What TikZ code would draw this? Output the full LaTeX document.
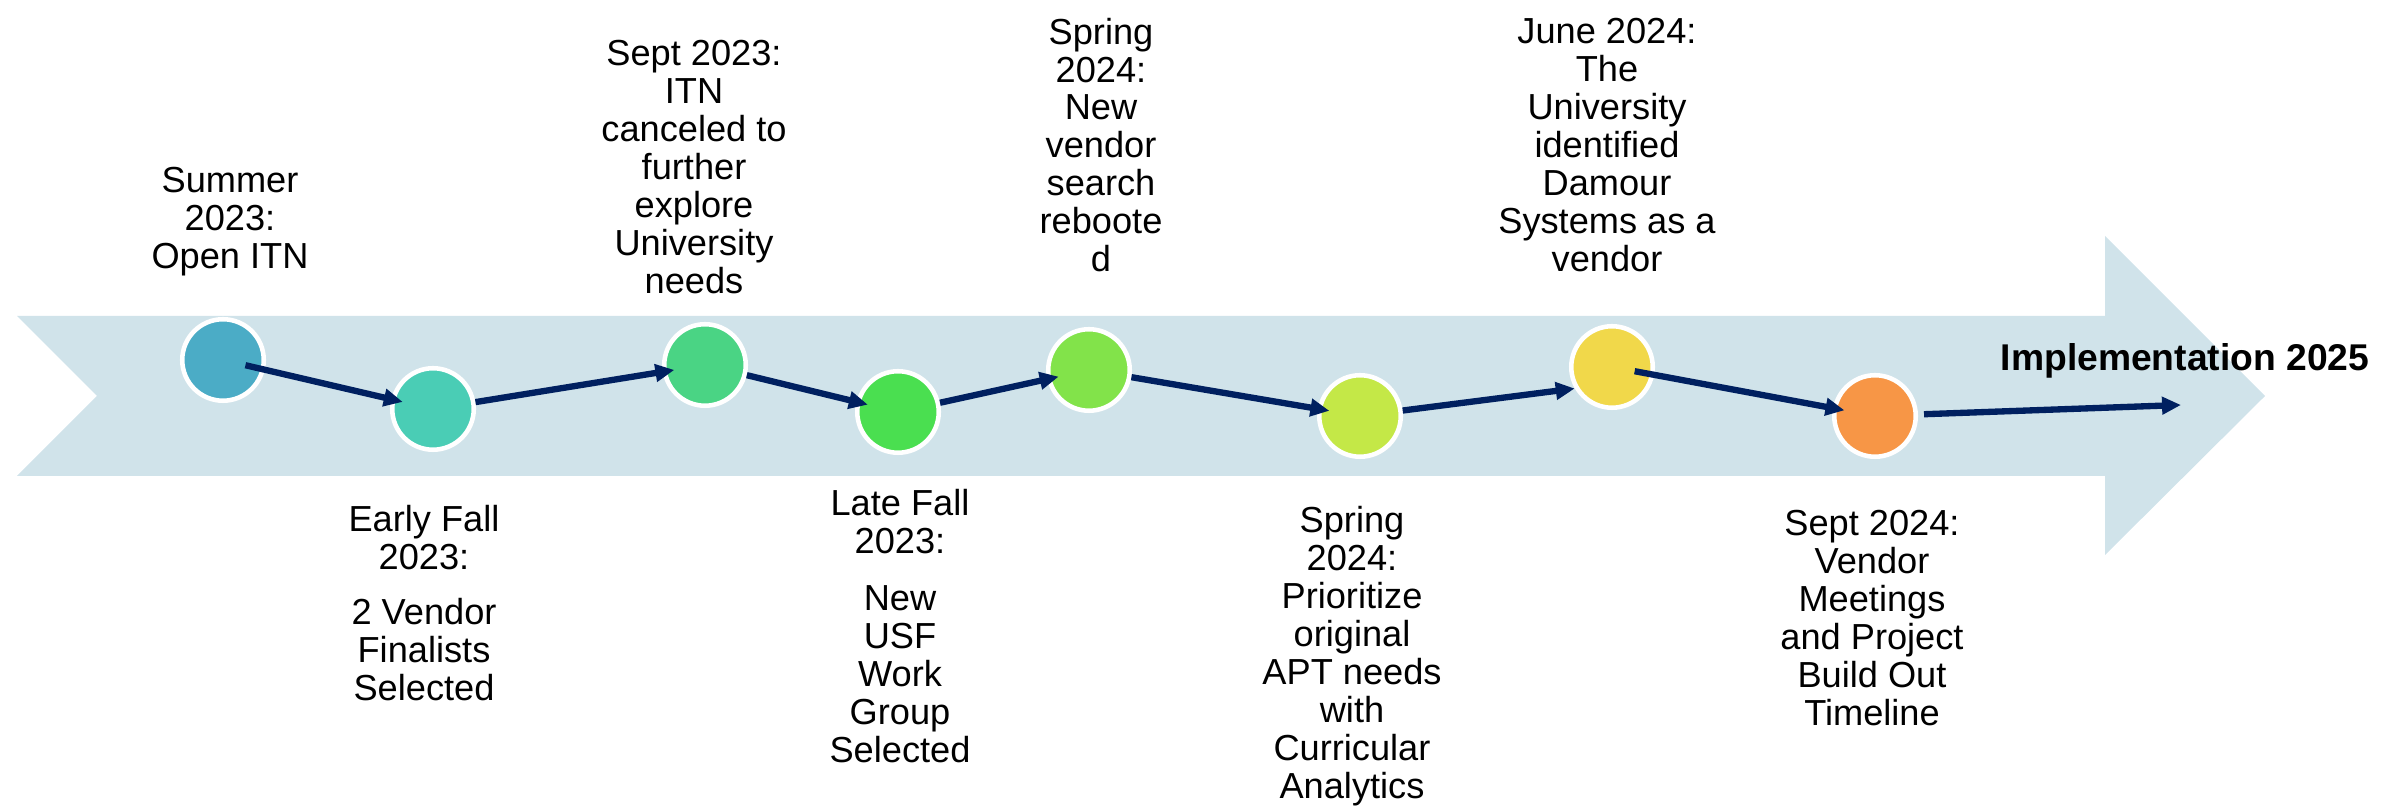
\documentclass[tikz,border=0pt]{standalone}
\usepackage{fontspec}
\setmainfont{Liberation Sans}
\usetikzlibrary{arrows.meta}

\definecolor{bandblue}{RGB}{208,227,234}
\definecolor{navy}{RGB}{0,32,96}
\definecolor{stepA}{RGB}{75,172,198}
\definecolor{stepB}{RGB}{74,205,181}
\definecolor{stepC}{RGB}{74,212,132}
\definecolor{stepD}{RGB}{74,223,80}
\definecolor{stepE}{RGB}{130,227,74}
\definecolor{stepF}{RGB}{196,232,71}
\definecolor{stepG}{RGB}{241,216,74}
\definecolor{stepH}{RGB}{247,150,70}

\begin{document}
\begin{tikzpicture}
                [
                milestone/.style={circle, draw=white, line width=1.3pt, minimum size=0.815cm, inner sep=0pt},
                note/.style={align=center, inner sep=0pt, font=\fontsize{10.3}{10.8}\selectfont},
                link/.style={-{Triangle[length=0.19cm,width=0.17cm]}, draw=navy, line width=1.8pt, shorten >=-0.12cm}
                ]
                \useasboundingbox (0,0) rectangle (23.82,8.12);
                % Background arrow
                \fill[bandblue] (0.17,4.96) -- (21.05,4.96) -- (21.05,5.76) -- (22.65,4.16)
                    -- (21.05,2.57) -- (21.05,3.36) -- (0.17,3.36) -- (0.97,4.16) -- cycle;
                % Milestones
                \node[milestone, fill=stepA] (c1) at (2.23,4.52) {};
                \node[milestone, fill=stepB] (c2) at (4.33,4.03) {};
                \node[milestone, fill=stepC] (c3) at (7.05,4.47) {};
                \node[milestone, fill=stepD] (c4) at (8.98,4.00) {};
                \node[milestone, fill=stepE] (c5) at (10.89,4.42) {};
                \node[milestone, fill=stepF] (c6) at (13.60,3.96) {};
                \node[milestone, fill=stepG] (c7) at (16.12,4.45) {};
                \node[milestone, fill=stepH] (c8) at (18.75,3.96) {};
                \coordinate (goal) at (21.81,4.07);
                % Connectors
                \draw[link, shorten <=-0.2cm] (c1) -- (c2);
                \draw[link] (c2) -- (c3);
                \draw[link] (c3) -- (c4);
                \draw[link] (c4) -- (c5);
                \draw[link] (c5) -- (c6);
                \draw[link, shorten >=0pt] (c6) -- (c7.210);
                \draw[link, shorten <=-0.2cm] (c7) -- (c8);
                \draw[link, shorten <=0.06cm, shorten >=0pt] (c8) -- (goal);
                % Labels above
                \node[note] (t1) at (2.30,5.90) {Summer\\2023:\\Open ITN};
                \node[note] (t3) at (6.94,6.45) {Sept 2023:\\ITN\\canceled to\\further\\explore\\University\\needs};
                \node[note] (t5) at (11.01,6.67) {Spring\\2024:\\New\\vendor\\search\\reboote\\d};
                \node[note] (t7) at (16.07,6.67) {June 2024:\\The\\University\\identified\\Damour\\Systems as a\\vendor};
                % Labels below
                \node[note] (t2) at (4.24,2.09) {Early Fall\\2023:\\[0.17cm]2 Vendor\\Finalists\\Selected};
                \node[note] (t4) at (9.00,1.86) {Late Fall\\2023:\\[0.19cm]New\\USF\\Work\\Group\\Selected};
                \node[note] (t6) at (13.52,1.56) {Spring\\2024:\\Prioritize\\original\\APT needs\\with\\Curricular\\Analytics};
                \node[note] (t8) at (18.72,1.94) {Sept 2024:\\Vendor\\Meetings\\and Project\\Build Out\\Timeline};
                % Goal label
                \node[inner sep=0pt, font=\bfseries\fontsize{10.6}{12}\selectfont] (impl) at (21.85,4.51) {Implementation 2025};
            \end{tikzpicture}
\end{document}
